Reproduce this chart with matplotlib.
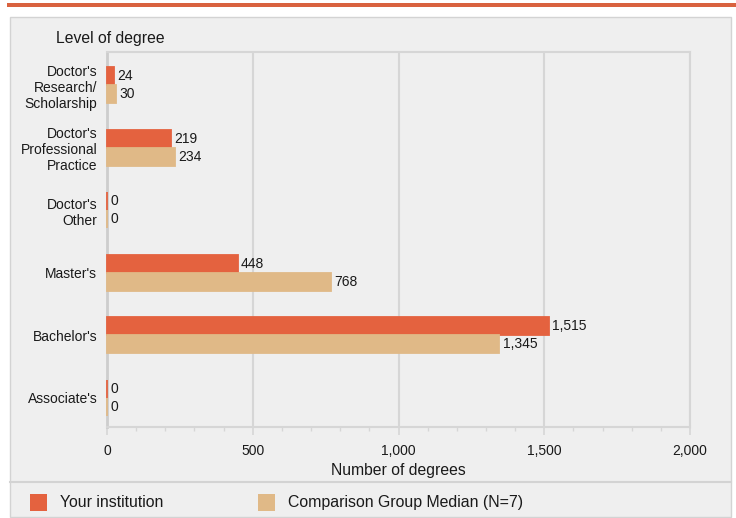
import matplotlib
matplotlib.use("Agg")
from matplotlib import pyplot as plt
from matplotlib.patches import Rectangle
from matplotlib.lines import Line2D
from matplotlib.ticker import FuncFormatter, MultipleLocator
import numpy as np

categories = ["Doctor's\nResearch/\nScholarship", "Doctor's\nProfessional\nPractice",
              "Doctor's\nOther", "Master's", "Bachelor's", "Associate's"]
institution = [24, 219, 0, 448, 1515, 0]
comparison = [30, 234, 0, 768, 1345, 0]
series_names = ["Your institution", "Comparison Group Median (N=7)"]

RED = "#e4623f"
TAN = "#e0b987"
PANEL = "#efefef"
GRID = "#d6d6d6"
TXT = "#1a1a1a"

plt.rcParams["font.family"] = ["Liberation Sans", "DejaVu Sans"]

W, H = 736, 518
fig = plt.figure(figsize=(W / 100, H / 100), dpi=100)


def fx(x):
    return x / W


def fy(y):
    return 1 - y / H


# top accent bar and panel
fig.patches.append(Rectangle((fx(7), fy(7)), fx(729), 4 / H, transform=fig.transFigure,
                             facecolor="#d9623f", edgecolor="none"))
fig.patches.append(Rectangle((fx(9.5), fy(517)), fx(721.5), 500 / H, transform=fig.transFigure,
                             facecolor=PANEL, edgecolor="#d3d3d3", linewidth=1, zorder=-10))
fig.lines.append(Line2D([fx(9.5), fx(731)], [fy(482), fy(482)], transform=fig.transFigure,
                        color="#d3d3d3", linewidth=1.5))

fig.text(fx(56), fy(38), "Level of degree", fontsize=11.3, color=TXT, va="center")

ax = fig.add_axes([fx(107), fy(427), fx(583), 375 / H])
ax.set_facecolor(PANEL)

y = np.arange(len(categories))
h = 0.29
b1 = ax.barh(y - h / 2, institution, height=h, color=RED, edgecolor=RED, linewidth=1.3,
             zorder=3, clip_on=False)
b2 = ax.barh(y + h / 2, comparison, height=h, color=TAN, edgecolor=TAN, linewidth=1.3,
             zorder=3, clip_on=False)
for bars in (b1, b2):
    ax.bar_label(bars, labels=[f"{v:,}" for v in bars.datavalues], padding=2.5,
                 fontsize=10, color=TXT)

ax.set_xlim(0, 2000)
ax.set_ylim(len(categories) - 0.5 - 0.03, -0.5 - 0.03)
ax.xaxis.set_major_locator(MultipleLocator(500))
ax.xaxis.set_minor_locator(MultipleLocator(100))
ax.xaxis.set_major_formatter(FuncFormatter(lambda v, p: f"{int(v):,}"))
ax.grid(axis="x", color=GRID, linewidth=1.5)
ax.set_axisbelow(True)
for s in ax.spines.values():
    s.set_color(GRID)
    s.set_linewidth(1.5)
ax.spines["left"].set_color("#cdcdcd")
ax.spines["left"].set_linewidth(2)
ax.tick_params(axis="x", which="major", length=5.5, width=1.2, color=GRID, labelsize=10,
               labelcolor=TXT, pad=7)
ax.tick_params(axis="x", which="minor", length=3, width=1, color=GRID)
ax.set_yticks(y)
ax.set_yticklabels(categories, fontsize=10, color=TXT, multialignment="right")
ax.tick_params(axis="y", length=0, pad=7)
ax.set_xlabel("Number of degrees", fontsize=11.3, color=TXT, labelpad=3)

# legend
for x0, col, name in ((30, RED, series_names[0]), (258, TAN, series_names[1])):
    fig.patches.append(Rectangle((fx(x0), fy(511)), fx(17), 17 / H, transform=fig.transFigure,
                                 facecolor=col, edgecolor="none"))
    fig.text(fx(x0 + 30), fy(502.5), name, fontsize=11.4, color=TXT, va="center")

fig.savefig("out.png", dpi=100)
